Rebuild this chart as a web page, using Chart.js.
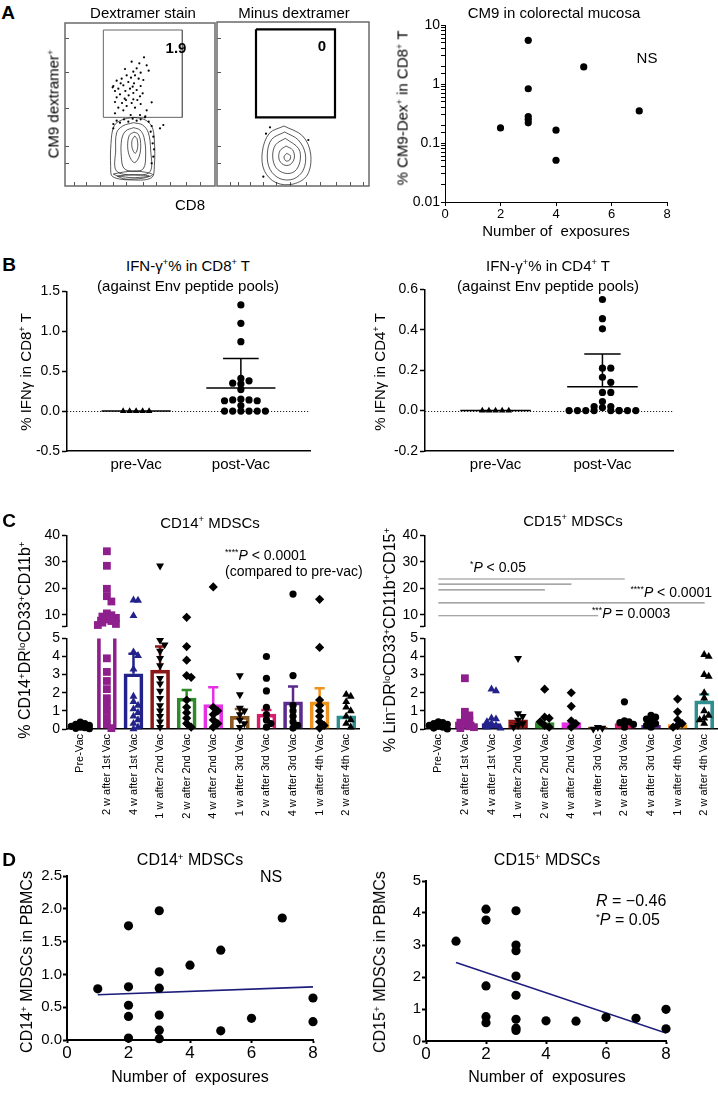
<!DOCTYPE html>
<html>
<head>
<meta charset="utf-8">
<title>CM9 / IFN-γ / MDSC figure</title>
<script src="https://cdn.jsdelivr.net/npm/chart.js@4.4.1/dist/chart.umd.min.js"></script>
<style>
  html, body { margin: 0; padding: 0; background: #fff; overflow: hidden; }
  #fig { position: relative; width: 718px; height: 1098px; overflow: hidden;
         font-family: "Liberation Sans", Arial, sans-serif; color: #000; }
  #fig canvas { position: absolute; }
  .t { position: absolute; white-space: nowrap; font-size: 15px; line-height: 1;
       transform: translate(-50%, -50%); }
  .t.l { transform: translate(0, -50%); }
  .t.r { transform: translate(-100%, -50%); }
  .t.v { transform: translate(-50%, -50%) rotate(-90deg); }
  .t.p { font-weight: bold; font-size: 19px; }
  sup { font-size: 0.62em; vertical-align: 0.55em; line-height: 0; }
</style>
</head>
<body>
<div id="fig"></div>
<script>
// ---------- A: flow plots (channel units) ----------
const dexDots = [[432,172],[395,185],[418,190],[440,196],[410,205],[375,207],[446,212],[400,215],
  [422,218],[380,226],[405,226],[393,233],[365,236],[416,236],[350,242],[385,246],[402,250],[370,256],
  [340,258],[422,258],[355,266],[390,266],[410,270],[345,273],[376,273],[400,279],[360,283],[386,286],
  [420,289],[350,292],[374,296],[400,298],[345,306],[366,309],[395,309],[422,312],[380,318],[355,323],
  [405,323],[370,331],[440,331],[455,307],[345,340],[392,345],[420,345],[436,349],[490,375],[480,385],
  [338,262],[428,280],[412,300],[362,250],[398,260],[378,300],[430,240],
  [340,372],[350,362],[360,368],[372,358],[385,365],[398,356],[410,362],[422,358],[435,352],[446,365],
  [455,378],[340,385],[452,395],[460,410],[458,430],[462,448],[460,470],[455,490]];
const dexContours = [
  [[400,352],[365,360],[342,378],[333,430],[332,500],[338,530],[400,540],[455,533],[463,500],[463,420],[455,378],[432,358]],
  [[400,368],[368,378],[350,398],[347,450],[349,512],[400,525],[450,515],[452,450],[445,398],[428,375]],
  [[401,383],[377,393],[365,418],[364,470],[372,505],[400,514],[430,506],[437,462],[432,412],[420,390]],
  [[402,396],[388,406],[383,440],[390,472],[404,488],[418,468],[422,430],[415,403]],
  [[404,408],[396,422],[397,446],[406,460],[413,442],[411,416]],
  [[340,522],[372,516],[402,513],[432,516],[458,524],[432,534],[402,537],[370,536]],
  [[352,528],[400,524],[448,528],[400,533]]
];
const dexGate = [310, 90, 547, 352];
const minusDots = [[810,382],[798,401],[925,420],[790,530]];
const minusContours = [
  [[852,378],[808,400],[787,455],[793,512],[828,548],[880,552],[922,525],[932,462],[908,408]],
  [[854,396],[815,418],[802,462],[810,508],[840,536],[880,537],[910,510],[916,462],[895,420]],
  [[856,415],[827,434],[818,468],[828,503],[856,520],[884,514],[900,484],[896,446]],
  [[858,438],[840,452],[837,477],[850,494],[870,494],[883,474],[878,450]],
  [[860,460],[852,471],[858,483],[869,480],[871,467]]
];
const minusGate = [768, 88, 1005, 352];
const flowYTicks = [115, 218, 327, 438, 490];
const dexXTicks = [222, 260, 300, 340, 380, 430, 470, 510, 560, 600];
const minusXTicks = [690, 715, 750, 790, 830, 870, 920, 960, 1010, 1050, 1090];

// ---------- A: CM9 in colorectal mucosa ----------
const cm9Exposures = [2, 3, 3, 3, 3, 3, 4, 4, 5, 7];
const cm9DexPct = [0.18, 5.5, 0.83, 0.28, 0.25, 0.22, 0.165, 0.051, 1.95, 0.35];
const exposureTicks = [0, 2, 4, 6, 8];

// ---------- B: IFN-γ ----------
const phases = ['pre-Vac', 'post-Vac'];
const cd8PreVac = [0, 0, 0, 0, 0];
const cd8PostVac = [1.33, 1.10, 0.87, 0.41, 0.38, 0.35, 0.34, 0.27, 0.15, 0.14, 0.14, 0.13, 0.13, 0.07,
  0, 0, 0, 0, 0, 0];
const cd8Mean = [0, 0.29];
const cd8Upper = [null, 0.66];
const cd4PreVac = [0, 0, 0, 0, 0];
const cd4PostVac = [0.55, 0.455, 0.405, 0.21, 0.21, 0.165, 0.14, 0.09, 0.09, 0.045, 0.02, 0.015, 0.02,
  0, 0, 0, 0, 0, 0, 0, 0, 0];
const cd4Mean = [0, 0.118];
const cd4Upper = [null, 0.28];

// ---------- C: MDSCs per visit ----------
const visits = ['Pre-Vac', '2 w after 1st Vac', '4 w after 1st Vac', '1 w after 2nd Vac',
  '2 w after 2nd Vac', '4 w after 2nd Vac', '1 w after 3rd Vac', '2 w after 3rd Vac',
  '4 w after 3rd Vac', '1 w after 4th Vac', '2 w after 4th Vac'];
const cd14Points = [
  [0.38, 0.3, 0.25, 0.2, 0.15, 0.1, 0.07, 0.04, 0.02],
  [34, 28.5, 19.8, 17, 15, 10.5, 9.8, 9.3, 8.8, 8.2, 7.6, 7.0, 6.5, 6.1, 3.9, 3.15, 2.65, 2.2, 1.7, 1.35, 1.0, 0.6, 0.25, 0.05],
  [15.5, 15.4, 9.6, 4.25, 4.05, 3.3, 1.8, 1.5, 1.3, 1.1, 0.9, 0.7, 0.5, 0.3, 0.1, 0],
  [28.5, 4.9, 4.65, 4.3, 3.9, 3.5, 2.8, 2.5, 2.1, 1.7, 1.3, 1.0, 0.7, 0.4, 0.1],
  [9.0, 4.55, 3.8, 2.95, 2.85, 1.6, 1.2, 0.9, 0.6, 0.3, 0.1],
  [20.5, 1.2, 1.0, 0.8, 0.5, 0.3, 0.1],
  [2.95, 1.9, 1.15, 1.0, 0.8, 0.5, 0.3, 0.1],
  [4.0, 2.8, 2.1, 1.2, 0.8, 0.5, 0.3, 0.1],
  [17.8, 2.95, 1.3, 1.0, 0.7, 0.4, 0.2, 0.05],
  [15.8, 4.5, 1.6, 1.3, 1.0, 0.7, 0.4, 0.2, 0.05],
  [1.9, 1.8, 1.5, 1.2, 1.0, 0.7, 0.5, 0.3, 0.1]
];
const cd14Mean = [0.15, 9.2, 3.05, 3.25, 1.7, 1.35, 0.7, 0.82, 1.5, 1.5, 0.72];
const cd14Upper = [null, null, 4.15, 4.55, 2.15, 2.3, 1.1, 1.05, 2.35, 2.25, null];
const cd15Points = [
  [0.4, 0.35, 0.3, 0.25, 0.2, 0.15, 0.1, 0.05, 0],
  [2.8, 0.95, 0.75, 0.6, 0.45, 0.35, 0.25, 0.15, 0.1, 0.05],
  [2.2, 2.1, 0.6, 0.55, 0.4, 0.3, 0.2, 0.1, 0.05],
  [3.9, 0.85, 0.7, 0.5, 0.3, 0.2, 0.1],
  [2.2, 0.65, 0.6, 0.4, 0.2, 0.1],
  [2.0, 1.25, 0.45, 0.3, 0.1],
  [0.1, 0.05, 0],
  [1.5, 0.45, 0.4, 0.35, 0.25, 0.1],
  [0.75, 0.65, 0.55, 0.45, 0.3, 0.2, 0.1],
  [1.65, 0.95, 0.5, 0.3, 0.2, 0.1],
  [4.1, 4.0, 3.0, 2.9, 2.0, 1.7, 1.0, 0.75, 0.6, 0.5, 0.3]
];
const cd15Mean = [0.15, 0.4, 0.3, 0.5, 0.35, 0.35, 0.1, 0.3, 0.2, 0.25, 1.55];
const cd15Upper = [null, null, null, null, null, null, null, null, null, null, 1.9];
// significance brackets (from pre-vac to visit index, at height in %)
const cd15SigTo = [7, 5, 4, 10, 6];
const cd15SigY = [23.5, 21.6, 19.4, 14.5, 9.6];

// ---------- D: MDSCs vs exposures ----------
const cd14Exposures = [1, 2, 2, 2, 2, 2, 3, 3, 3, 3, 3, 3, 4, 5, 5, 6, 7, 8, 8];
const cd14Pbmc = [0.78, 1.74, 0.81, 0.53, 0.36, 0.03, 1.97, 1.04, 0.79, 0.38, 0.15, 0.02, 1.14, 1.37,
  0.14, 0.33, 1.86, 0.64, 0.28];
const cd14FitX = [1, 8];
const cd14FitY = [0.69, 0.81];
const cd15Exposures = [1, 2, 2, 2, 2, 2, 3, 3, 3, 3, 3, 3, 3, 3, 4, 5, 6, 7, 8, 8];
const cd15Pbmc = [3.12, 4.12, 3.78, 1.72, 0.76, 0.57, 4.07, 3.0, 2.82, 2.03, 1.43, 0.68, 0.4, 0.33,
  0.63, 0.62, 0.74, 0.71, 0.99, 0.38];
const cd15FitX = [1, 8];
const cd15FitY = [2.45, 0.25];

// ---------- styles ----------
const visitColors = ['#000000', '#8e1f8c', '#22228a', '#8b1616', '#2f8a2a', '#e630e6', '#8b5a22',
  '#d81c6e', '#5b2a8c', '#f0921e', '#2f8f8f'];
const visitPointColors = ['#000', '#8e1f8c', '#22228a', '#000', '#000', '#000', '#000', '#000', '#000', '#000', '#000'];
const visitShapes = ['circle', 'rect', 'triangle', 'triangle', 'rectRot', 'rectRot', 'triangle',
  'circle', 'circle', 'rectRot', 'triangle'];
const visitRotation = [0, 0, 0, 180, 0, 0, 180, 0, 0, 0, 0];
const shapeRadius = { circle: 3.6, rect: 5.5, triangle: 4.6, rectRot: 4.6 };
const FIT_COLOR = '#1c1c7c';

Chart.defaults.font.family = '"Liberation Sans", Arial, sans-serif';
Chart.defaults.color = '#000';
Chart.defaults.animation = false;

// box around the flow plots
const frame = {
  id: 'frame',
  afterDatasetsDraw(chart, args, o) {
    if (!o || !o.color) return;
    const a = chart.chartArea, ctx = chart.ctx;
    ctx.save();
    ctx.strokeStyle = o.color;
    ctx.lineWidth = o.width || 1;
    ctx.strokeRect(a.left, a.top, a.right - a.left, a.bottom - a.top);
    ctx.restore();
  }
};
// dotted line at y = 0
const zeroLine = {
  id: 'zeroLine',
  beforeDatasetsDraw(chart, args, o) {
    if (!o || !o.on) return;
    const a = chart.chartArea, ctx = chart.ctx;
    const y = Math.round(chart.scales.y.getPixelForValue(0)) + 0.5;
    ctx.save();
    ctx.strokeStyle = '#222';
    ctx.lineWidth = 1;
    ctx.setLineDash([1.2, 1.8]);
    ctx.beginPath(); ctx.moveTo(a.left, y); ctx.lineTo(a.right, y); ctx.stroke();
    ctx.restore();
  }
};
Chart.register(frame, zeroLine);

const fig = document.getElementById('fig');
function addCanvas(left, top, w, h) {
  const c = document.createElement('canvas');
  c.width = w; c.height = h;
  c.style.left = left + 'px'; c.style.top = top + 'px';
  c.style.width = w + 'px'; c.style.height = h + 'px';
  fig.appendChild(c);
  return c;
}
function label(html, x, y, cls, size) {
  const d = document.createElement('div');
  d.className = 't' + (cls ? ' ' + cls : '');
  d.style.left = x + 'px'; d.style.top = y + 'px';
  if (size) d.style.fontSize = size + 'px';
  d.innerHTML = html;
  fig.appendChild(d);
}

function axis(o) {
  const shown = o.display !== false;
  const a = {
    type: o.type || 'linear',
    display: shown,
    min: o.min, max: o.max,
    reverse: !!o.reverse,
    offset: false,
    afterFit: s => {
      const size = shown ? o.size : 0;
      if (s.isHorizontal()) s.height = size; else s.width = size;
    },
    border: { display: o.line !== 0, color: '#000', width: o.line || 1.5 },
    grid: { drawOnChartArea: false, offset: false, drawTicks: o.tick !== 0,
            tickLength: o.tick === undefined ? 5 : o.tick, tickWidth: o.tw || o.line || 1.5,
            tickColor: o.tickColor || '#000' },
    ticks: { display: o.labels !== false, color: '#000', font: { size: o.font || 14 },
             padding: o.pad === undefined ? 2 : o.pad, autoSkip: false,
             maxRotation: o.rot || 0, minRotation: o.rot || 0 }
  };
  if (o.at) a.afterBuildTicks = s => { s.ticks = o.at.map(v => ({ value: v })); };
  if (o.fmt) a.ticks.callback = o.fmt;
  if (o.step) a.ticks.stepSize = o.step;
  return a;
}
function options(padding, scales, plugins) {
  return {
    responsive: false, animation: false, events: [],
    layout: { padding },
    plugins: Object.assign({ legend: { display: false }, tooltip: { enabled: false } }, plugins || {}),
    scales
  };
}
const xy = (xs, ys) => xs.map((x, i) => ({ x, y: ys[i] }));
const pts = arr => arr.map(([x, y]) => ({ x, y }));

// beeswarm-like horizontal offsets so that dots do not sit on each other
function swarm(values, step, tol, maxK) {
  const placed = [];
  return values.map((v, n) => {
    let off = null;
    for (let k = 0; k <= maxK; k++) {
      const o = k === 0 ? 0 : (k % 2 ? 1 : -1) * Math.ceil(k / 2) * step;
      const hit = placed.some(p => Math.hypot((p.x - o) / step, (p.y - v) / tol) < 0.999);
      if (!hit) { off = o; break; }
    }
    if (off === null) {
      const k = n % (maxK + 1);
      off = k === 0 ? 0 : (k % 2 ? 1 : -1) * Math.ceil(k / 2) * step;
    }
    placed.push({ x: off, y: v });
    return off;
  });
}

// ---------- A left: two flow plots ----------
function flowPlot(box, xr, yr, dots, rings, gate, gateColor, gateWidth, xTicks) {
  const cv = addCanvas(box[0] - 10, box[1] - 10, box[2] - box[0] + 20, box[3] - box[1] + 20);
  const ds = [{ data: pts(dots), pointRadius: 1.1, backgroundColor: '#000', borderWidth: 0 }];
  rings.forEach(r => ds.push({ data: pts(r.concat([r[0]])), showLine: true, tension: 0.35,
    borderColor: '#111', borderWidth: 0.7, pointRadius: 0 }));
  const [gx1, gy1, gx2, gy2] = gate;
  ds.push({ data: pts([[gx1, gy1], [gx2, gy1], [gx2, gy2], [gx1, gy2], [gx1, gy1]]), showLine: true,
    tension: 0, borderColor: gateColor, borderWidth: gateWidth, pointRadius: 0 });
  const flowAxis = (min, max, at, rev) => axis({ min, max, at, reverse: rev, size: 0, tick: -4,
    labels: false, line: 0, tw: 1, tickColor: '#555' });
  new Chart(cv, {
    type: 'scatter',
    data: { datasets: ds },
    options: options(10, { x: flowAxis(xr[0], xr[1], xTicks, false), y: flowAxis(yr[0], yr[1], flowYTicks, true) },
      { frame: { color: '#6a6a6a', width: 1.5 } })
  });
}
flowPlot([65, 23, 215, 186], [195, 645], [69, 558], dexDots, dexContours, dexGate, '#666', 1, dexXTicks);
flowPlot([217, 22, 369, 186], [651, 1107], [66, 558], minusDots, minusContours, minusGate, '#000', 2.2, minusXTicks);

// ---------- A right: CM9 in colorectal mucosa ----------
new Chart(addCanvas(385, 15, 292, 209), {
  type: 'scatter',
  data: { datasets: [{ data: xy(cm9Exposures, cm9DexPct), pointRadius: 3.6, backgroundColor: '#000', borderWidth: 0 }] },
  options: options({ top: 10, right: 10, left: 0, bottom: 0 }, {
    x: axis({ min: 0, max: 8, at: exposureTicks, size: 22, font: 13, tick: 4, line: 1, pad: 1 }),
    y: axis({ type: 'logarithmic', min: 0.01, max: 10, size: 60, font: 14, tick: 4, line: 1, pad: 1,
      fmt: v => { const l = Math.log10(v); return Math.abs(l - Math.round(l)) < 1e-6 ? String(+v.toPrecision(1)) : ''; } })
  })
});

// ---------- B: IFN-γ pre/post ----------
function ifnPanel(left, top, width, height, pre, post, means, uppers, yMin, yMax, yStep, tol) {
  const preX = swarm(pre, 0.062, tol, 8).map(o => 1 + o);
  const postX = swarm(post, 0.078, tol, 8).map(o => 2 + o);
  const ds = [
    { data: xy(preX, pre), pointStyle: 'triangle', pointRadius: 3.8, backgroundColor: '#000', borderWidth: 0, order: 0 },
    { data: xy(postX, post), pointStyle: 'circle', pointRadius: 3.6, backgroundColor: '#000', borderWidth: 0, order: 0 }
  ];
  means.forEach((m, i) => {
    const c = i + 1;
    ds.push({ data: xy([c - 0.33, c + 0.33], [m, m]), showLine: true, borderColor: '#000', borderWidth: 1.5, pointRadius: 0, order: 1 });
    if (uppers[i] !== null) {
      ds.push({ data: xy([c, c], [m, uppers[i]]), showLine: true, borderColor: '#000', borderWidth: 1.5, pointRadius: 0, order: 1 });
      ds.push({ data: xy([c - 0.17, c + 0.17], [uppers[i], uppers[i]]), showLine: true, borderColor: '#000', borderWidth: 1.5, pointRadius: 0, order: 1 });
    }
  });
  new Chart(addCanvas(left, top, width, height), {
    type: 'scatter',
    data: { datasets: ds },
    options: options({ top: 10, right: 10, left: 0, bottom: 0 }, {
      x: axis({ min: 0.34, max: 2.66, at: [1, 2], size: 30, font: 15, tick: 0, pad: 5, fmt: (v, i) => phases[i] }),
      y: axis({ min: yMin, max: yMax, step: yStep, size: 60, font: 14, tick: 5, pad: 2, fmt: v => v.toFixed(1) })
    }, { zeroLine: { on: true } })
  });
}
ifnPanel(7, 281, 313, 200, cd8PreVac, cd8PostVac, cd8Mean, cd8Upper, -0.5, 1.5, 0.5, 0.07);
ifnPanel(365, 279, 318, 202, cd4PreVac, cd4PostVac, cd4Mean, cd4Upper, -0.2, 0.6, 0.2, 0.028);

// ---------- C: MDSC bars with broken y axis ----------
function mdscPanel(left, points, means, uppers, solidBelow, sigTo, sigY) {
  const idx = visits.map((_, i) => i);
  const split = 5.2;
  const barSet = () => ({
    type: 'bar', data: xy(idx, means), barThickness: 19, borderWidth: 3, borderSkipped: 'start',
    borderColor: visitColors,
    backgroundColor: means.map((m, i) => m < solidBelow ? visitColors[i] : 'rgba(0,0,0,0)'),
    clip: 0, order: 3
  });
  const pointSets = (upper) => points.map((vals, i) => {
    const v = vals.filter(p => upper ? p > split : p <= split);
    const offs = upper ? swarm(v, 0.17, 2.2, 4) : swarm(v, 0.17, 0.3, 4);
    return {
      type: 'scatter', data: xy(offs.map(o => i + o), v),
      pointStyle: visitShapes[i], rotation: visitRotation[i], pointRadius: shapeRadius[visitShapes[i]],
      backgroundColor: visitPointColors[i], borderWidth: 0, clip: false, order: 0
    };
  });
  const errSets = [];
  uppers.forEach((u, i) => {
    if (u === null) return;
    errSets.push({ type: 'scatter', data: xy([i, i], [means[i], u]), showLine: true, borderColor: visitColors[i], borderWidth: 2.5, pointRadius: 0, order: 2 });
    errSets.push({ type: 'scatter', data: xy([i - 0.19, i + 0.19], [u, u]), showLine: true, borderColor: visitColors[i], borderWidth: 2.5, pointRadius: 0, order: 2 });
  });
  const sigSets = (sigTo || []).map((to, k) => ({
    type: 'scatter', data: xy([0, to], [sigY[k], sigY[k]]), showLine: true, borderColor: '#8a8a8a', borderWidth: 1.2, pointRadius: 0, order: 1
  }));
  const xAxis = (show) => axis({ min: -0.5, max: 10.5, at: idx, display: show, size: 100, font: 11, tick: 0, pad: 5, rot: 90, fmt: (v, i) => visits[i] });

  // upper segment 5.5 - 40
  new Chart(addCanvas(left, 525, 358, 112), {
    type: 'scatter',
    data: { datasets: [barSet(), ...pointSets(true), ...sigSets] },
    options: options({ top: 10, right: 5, left: 0, bottom: 10 }, {
      x: xAxis(false),
      y: axis({ min: 5.5, max: 40, at: [5.5, 10, 20, 30, 40], size: 60, font: 14, tick: 5, pad: 2, fmt: v => v === 5.5 ? '' : String(v) })
    })
  });
  // lower segment 0 - 5
  new Chart(addCanvas(left, 628, 358, 201), {
    type: 'scatter',
    data: { datasets: [barSet(), ...pointSets(false), ...errSets] },
    options: options({ top: 10, right: 5, left: 0, bottom: 0 }, {
      x: xAxis(true),
      y: axis({ min: 0, max: 5, step: 1, size: 60, font: 14, tick: 5, pad: 2, fmt: v => String(v) })
    })
  });
}
mdscPanel(7, cd14Points, cd14Mean, cd14Upper, 0, null, null);
mdscPanel(365, cd15Points, cd15Mean, cd15Upper, 1, cd15SigTo, cd15SigY);

// ---------- D: MDSCs vs number of exposures ----------
function corrPanel(left, top, width, height, xs, ys, fitX, fitY, yMax, yStep, yFmt) {
  new Chart(addCanvas(left, top, width, height), {
    type: 'scatter',
    data: { datasets: [
      { data: xy(xs, ys), pointRadius: 4.6, backgroundColor: '#000', borderWidth: 0, clip: false, order: 0 },
      { data: xy(fitX, fitY), showLine: true, borderColor: FIT_COLOR, borderWidth: 1.6, pointRadius: 0, order: 1 }
    ] },
    options: options({ top: 10, right: 10, left: 0, bottom: 0 }, {
      x: axis({ min: 0, max: 8, at: exposureTicks, size: 30, font: 17, tick: 3, pad: 0, line: 2 }),
      y: axis({ min: 0, max: yMax, step: yStep, size: 60, font: 15, tick: 4, pad: 1, line: 2, fmt: yFmt })
    })
  });
}
corrPanel(7, 866, 316, 204, cd14Exposures, cd14Pbmc, cd14FitX, cd14FitY, 2.5, 0.5, v => v.toFixed(1));
corrPanel(366, 871, 310, 200, cd15Exposures, cd15Pbmc, cd15FitX, cd15FitY, 5, 1, v => String(v));

// ---------- text ----------
label('A', 8, 12, 'p'); label('B', 9, 264, 'p'); label('C', 9, 520, 'p'); label('D', 9, 859, 'p');
label('Dextramer stain', 143, 12); label('Minus dextramer', 294, 12);
label('<b>1.9</b>', 176, 47); label('<b>0</b>', 322, 45);
label('CM9 dextramer<sup>+</sup>', 53, 104, 'v');
label('CD8', 190, 204);
label('CM9 in colorectal mucosa', 554, 12);
label('NS', 647, 57);
label('% CM9-Dex<sup>+</sup> in CD8<sup>+</sup> T', 402, 108, 'v');
label('Number of&nbsp; exposures', 556, 230);

label('IFN-γ<sup>+</sup>% in CD8<sup>+</sup> T', 188, 265);
label('(against Env peptide pools)', 188, 285);
label('% IFNγ in CD8<sup>+</sup> T', 25, 372, 'v');
label('IFN-γ<sup>+</sup>% in CD4<sup>+</sup> T', 548, 265);
label('(against Env peptide pools)', 548, 285);
label('% IFNγ in CD4<sup>+</sup> T', 379, 372, 'v');

label('CD14<sup>+</sup> MDSCs', 210, 522);
label('<sup>****</sup><i>P</i> &lt; 0.0001', 225, 555, 'l', 14);
label('(compared to pre-vac)', 225, 571, 'l', 14);
label('% CD14<sup>+</sup>DR<sup>lo</sup>CD33<sup>+</sup>CD11b<sup>+</sup>', 25, 640, 'v', 16);
label('CD15<sup>+</sup> MDSCs', 573, 520);
label('<sup>*</sup><i>P</i> &lt; 0.05', 470, 567, 'l', 14);
label('<sup>****</sup><i>P</i> &lt; 0.0001', 712, 592, 'r', 14);
label('<sup>***</sup><i>P</i> = 0.0003', 592, 613, 'l', 14);
label('% Lin<sup>−</sup>DR<sup>lo</sup>CD33<sup>+</sup>CD11b<sup>+</sup>CD15<sup>+</sup>', 390, 640, 'v', 16);

label('CD14<sup>+</sup> MDSCs', 190, 860, '', 16);
label('NS', 271, 877, '', 16);
label('CD14<sup>+</sup> MDSCs in PBMCs', 27, 962, 'v', 16);
label('Number of&nbsp; exposures', 190, 1077, '', 16);
label('CD15<sup>+</sup> MDSCs', 547, 860, '', 16);
label('<i>R</i> = −0.46', 596, 901, 'l', 16);
label('<sup>*</sup><i>P</i> = 0.05', 596, 920, 'l', 16);
label('CD15<sup>+</sup> MDSCs in PBMCs', 380, 962, 'v', 16);
label('Number of&nbsp; exposures', 547, 1077, '', 16);
</script>
</body>
</html>
